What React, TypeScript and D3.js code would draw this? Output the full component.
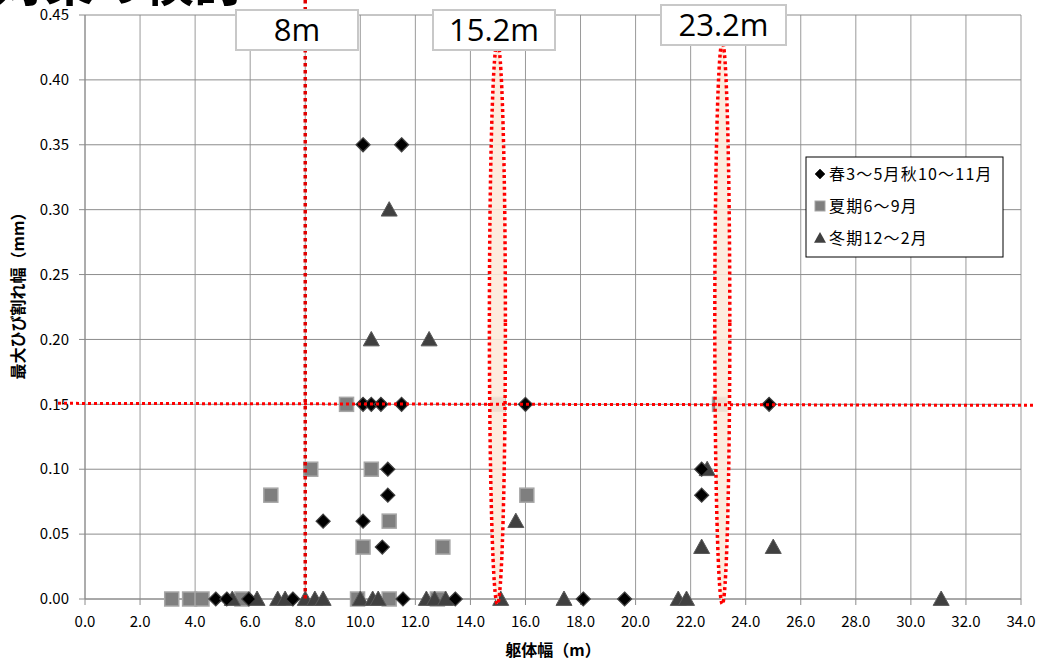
import React from "react";
import * as d3 from "d3";

// Data: [躯体幅 (m), 最大ひび割れ幅 (mm)]
const springAutumn: [number, number][] = [
  [10.1, 0.35], [11.5, 0.35],
  [10.1, 0.15], [10.4, 0.15], [10.75, 0.15], [11.5, 0.15], [16.0, 0.15], [24.85, 0.15],
  [11.0, 0.10], [11.0, 0.08], [8.65, 0.06], [10.1, 0.06], [10.8, 0.04],
  [22.4, 0.10], [22.4, 0.08],
  [4.75, 0], [5.15, 0], [5.95, 0], [7.55, 0], [11.55, 0], [13.45, 0], [18.1, 0], [19.6, 0],
];
const summer: [number, number][] = [
  [9.5, 0.15], [8.2, 0.10], [10.4, 0.10], [6.75, 0.08], [11.05, 0.06], [16.05, 0.08],
  [10.1, 0.04], [13.0, 0.04],
  [3.15, 0], [3.8, 0], [4.25, 0], [5.7, 0], [9.9, 0], [11.05, 0], [12.8, 0],
];
const hiddenMarks: [number, number][] = [[15.0, 0.15], [23.05, 0.15]];
const winter: [number, number][] = [
  [11.05, 0.30], [10.4, 0.20], [12.5, 0.20], [15.65, 0.06], [22.4, 0.04], [25.0, 0.04], [22.6, 0.10],
  [5.35, 0], [6.25, 0], [7.0, 0], [7.27, 0], [8.0, 0], [8.35, 0], [8.65, 0], [10.0, 0],
  [10.45, 0], [10.65, 0], [12.4, 0], [12.7, 0], [13.1, 0], [15.1, 0], [17.4, 0],
  [21.55, 0], [21.85, 0], [31.1, 0],
];
const xTicks = d3.range(0, 34.01, 2);
const yTicks = d3.range(0, 0.4501, 0.05);
const legendLabels = ["春3～5月秋10～11月", "夏期6～9月", "冬期12～2月"];
const callouts: { x: number; label: string }[] = [
  { x: 8, label: "8m" },
  { x: 15.2, label: "15.2m" },
  { x: 23.2, label: "23.2m" },
];
const ellipseCenters = [14.98, 23.15];
const thresholdY = 0.15;
const title = "対策の検討";
const xLabel = "躯体幅（m）";
const yLabel = "最大ひび割れ幅（mm）";

const FONT = "'Noto Sans CJK JP', 'Noto Sans', sans-serif";

export default function App() {
  const W = 1040, H = 662;
  const left = 85, right = 1021, top = 15, bottom = 599;
  const x = d3.scaleLinear().domain([0, 34]).range([left, right]);
  const y = d3.scaleLinear().domain([0, 0.45]).range([bottom, top]);

  const diamond = (cx: number, cy: number, s = 7) =>
    `M${cx},${cy - s}L${cx + s},${cy}L${cx},${cy + s}L${cx - s},${cy}Z`;
  const tri = (cx: number, cy: number, s = 8) =>
    `M${cx},${cy - s}L${cx + s},${cy + s * 0.8}L${cx - s},${cy + s * 0.8}Z`;

  const boxPos = [
    { x0: 236, x1: 358, y0: 10, y1: 50 },
    { x0: 433, x1: 555, y0: 10, y1: 50 },
    { x0: 661, x1: 786, y0: 5, y1: 45 },
  ];

  return (
    <svg width={W} height={H} style={{ position: "absolute", left: 0, top: 0, background: "#fff" }} fontFamily={FONT}>
      <rect width={W} height={H} fill="#fff" />
      {/* title clipped at top */}
      <text x={-6} y={1} fontSize={50} fontWeight={700} fill="#000">{title}</text>

      {/* grid */}
      {xTicks.map((t) => (
        <line key={"gx" + t} x1={x(t)} x2={x(t)} y1={top} y2={bottom} stroke="#9a9a9a" strokeWidth={1} />
      ))}
      {yTicks.map((t, i) => (
        <line key={"gy" + i} x1={left} x2={right} y1={y(t)} y2={y(t)} stroke="#8c8c8c" strokeWidth={1} />
      ))}
      {/* axes */}
      <line x1={left} x2={left} y1={top} y2={bottom} stroke="#8c8c8c" />
      <line x1={left} x2={right} y1={bottom} y2={bottom} stroke="#8c8c8c" />
      {yTicks.map((t, i) => (
        <g key={"yt" + i}>
          <line x1={left - 6} x2={left} y1={y(t)} y2={y(t)} stroke="#8c8c8c" />
          <text x={left - 16} y={y(t)} dy="0.35em" textAnchor="end" fontSize={15} fill="#000">{t.toFixed(2)}</text>
        </g>
      ))}
      {xTicks.map((t) => (
        <g key={"xt" + t}>
          <line x1={x(t)} x2={x(t)} y1={bottom} y2={bottom + 6} stroke="#8c8c8c" />
          <text x={x(t)} y={bottom + 28} textAnchor="middle" fontSize={15} fill="#000">{t.toFixed(1)}</text>
        </g>
      ))}
      <text transform={`translate(24,292) rotate(-90)`} textAnchor="middle" fontSize={16} fontWeight={700} fill="#000">{yLabel}</text>
      <text x={553} y={656} textAnchor="middle" fontSize={16} fontWeight={700} fill="#000">{xLabel}</text>

      {/* faint hidden marks */}
      {hiddenMarks.map(([a, b], i) => (
        <rect key={"h" + i} x={x(a) - 7} y={y(b) - 7} width={14} height={14} fill="#808080" stroke="#a6a6a6" strokeWidth={1.5} />
      ))}

      {/* series */}
      {summer.map(([a, b], i) => (
        <rect key={"s" + i} x={x(a) - 7} y={y(b) - 7} width={14} height={14} fill="#7f7f7f" stroke="#a6a6a6" strokeWidth={1.5} />
      ))}
      {winter.map(([a, b], i) => (
        <path key={"w" + i} d={tri(x(a), y(b))} fill="#404040" stroke="#595959" strokeWidth={1} />
      ))}
      {springAutumn.map(([a, b], i) => (
        <path key={"d" + i} d={diamond(x(a), y(b))} fill="#000" stroke="#404040" strokeWidth={1.2} />
      ))}

      {/* ellipses */}
      {ellipseCenters.map((c, i) => (
        <ellipse key={"e" + i} cx={x(c)} cy={(42 + 604) / 2} rx={i === 0 ? 8 : 7.5} ry={(604 - 42) / 2}
          fill="#fde9d9" fillOpacity={0.88} stroke="#ff0000" strokeWidth={3.5} strokeDasharray="3 3" />
      ))}

      {/* threshold lines */}
      <line x1={58} x2={1035} y1={y(thresholdY) - 1} y2={y(thresholdY) + 1} stroke="#ff0000" strokeWidth={3} strokeDasharray="3 3" />
      <line x1={x(8)} x2={x(8)} y1={0} y2={bottom} stroke="#e00000" strokeWidth={3.5} strokeDasharray="3.5 3.5" />

      {/* callouts */}
      {callouts.map((c, i) => {
        const b = boxPos[i];
        return (
          <g key={"c" + i}>
            <rect x={b.x0} y={b.y0} width={b.x1 - b.x0} height={b.y1 - b.y0} fill="#fff" stroke="#c8c8c8" strokeWidth={2} />
            <text x={(b.x0 + b.x1) / 2} y={(b.y0 + b.y1) / 2 + 11} textAnchor="middle" fontSize={31} fill="#000" fontFamily="'Open Sans', 'Noto Sans', sans-serif">{c.label}</text>
          </g>
        );
      })}

      {/* legend */}
      <g>
        <rect x={806} y={157} width={197} height={100} fill="#fff" stroke="#000" strokeWidth={1} />
        {legendLabels.map((l, i) => {
          const ly = 174 + i * 32;
          return (
            <g key={"l" + i}>
              {i === 0 && <path d={diamond(820, ly, 5)} fill="#000" stroke="#404040" />}
              {i === 1 && <rect x={815} y={ly - 5} width={10} height={10} fill="#7f7f7f" stroke="#a6a6a6" />}
              {i === 2 && <path d={tri(820, ly, 6)} fill="#404040" />}
              <text x={829} y={ly} dy="0.36em" fontSize={16} letterSpacing={1.2} fill="#000">{l}</text>
            </g>
          );
        })}
      </g>
    </svg>
  );
}
